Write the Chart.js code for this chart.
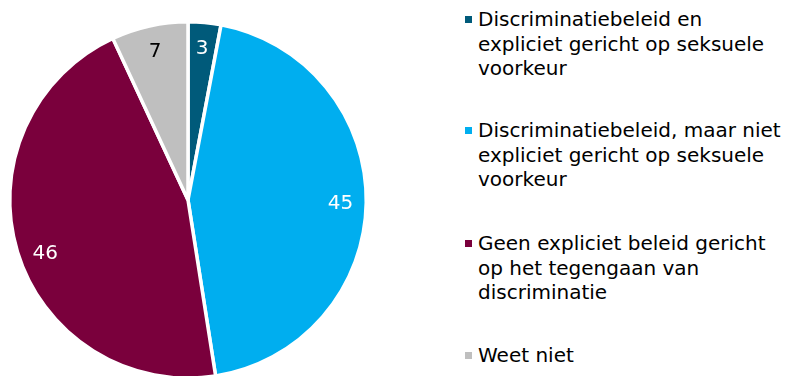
<!DOCTYPE html>
<html lang="nl">
<head>
<meta charset="utf-8">
<script src="https://cdn.jsdelivr.net/npm/chart.js@4/dist/chart.umd.min.js"></script>
<style>
  html, body { margin: 0; padding: 0; background: #fff; }
  body { width: 794px; height: 376px; overflow: hidden; position: relative;
         font-family: "DejaVu Sans", Verdana, sans-serif; }
  #pieBox { position: absolute; left: 0; top: 0; width: 376px; height: 400px; }
  #legend { position: absolute; left: 465px; top: 0; width: 329px; }
  .item { position: absolute; left: 0; display: flex; align-items: flex-start; }
  .box { width: 7px; height: 7px; margin-top: 9px; margin-right: 6px; flex: none; }
  .txt { font-size: 20px; line-height: 24.5px; color: #000; white-space: pre; }
</style>
</head>
<body>
<div id="pieBox"><canvas id="pie"></canvas></div>
<div id="legend"></div>
<script>
// Answer categories (legend text, wrapped as shown)
const categories = [
  "Discriminatiebeleid en\nexpliciet gericht op seksuele\nvoorkeur",
  "Discriminatiebeleid, maar niet\nexpliciet gericht op seksuele\nvoorkeur",
  "Geen expliciet beleid gericht\nop het tegengaan van\ndiscriminatie",
  "Weet niet"
];
// Share of respondents (%)
const values = [3, 45, 46, 7];

const sliceColors = ["#005a7a", "#00aeef", "#7a003c", "#bfbfbf"];
const labelColors = ["#ffffff", "#ffffff", "#ffffff", "#000000"];
// small angular nudge (degrees) for label placement inside each slice
const labelShift = [0, 0, -3.5, 0];
const legendTops = [7, 118, 231, 343];

// Value labels placed inside each slice
const sliceLabels = {
  id: "sliceLabels",
  afterDatasetsDraw(chart) {
    const ctx = chart.ctx;
    const meta = chart.getDatasetMeta(0);
    ctx.save();
    ctx.font = '20px "DejaVu Sans", Verdana, sans-serif';
    ctx.textAlign = "center";
    ctx.textBaseline = "middle";
    meta.data.forEach((arc, i) => {
      const p = arc.getProps(["x", "y", "startAngle", "endAngle", "outerRadius"], true);
      const mid = (p.startAngle + p.endAngle) / 2 + labelShift[i] * Math.PI / 180;
      const r = p.outerRadius * 0.855;
      ctx.fillStyle = labelColors[i];
      ctx.fillText(String(chart.data.datasets[0].data[i]), p.x + Math.cos(mid) * r, p.y + Math.sin(mid) * r + 1);
    });
    ctx.restore();
  }
};

const chart = new Chart(document.getElementById("pie"), {
  type: "pie",
  data: {
    labels: categories,
    datasets: [{
      data: values,
      backgroundColor: sliceColors,
      borderColor: "#ffffff",
      borderWidth: 3.5
    }]
  },
  options: {
    responsive: true,
    maintainAspectRatio: false,
    animation: false,
    layout: { padding: { left: 8, right: 8, top: 20, bottom: 20 } },
    plugins: { legend: { display: false }, tooltip: { enabled: false } }
  },
  plugins: [sliceLabels]
});

// Legend built from the chart's own legend items
const legendEl = document.getElementById("legend");
Chart.overrides.pie.plugins.legend.labels.generateLabels(chart).forEach((item, i) => {
  const row = document.createElement("div");
  row.className = "item";
  row.style.top = legendTops[i] + "px";
  const box = document.createElement("span");
  box.className = "box";
  box.style.background = item.fillStyle;
  const txt = document.createElement("span");
  txt.className = "txt";
  txt.textContent = categories[item.index];
  row.appendChild(box);
  row.appendChild(txt);
  legendEl.appendChild(row);
});
</script>
</body>
</html>
